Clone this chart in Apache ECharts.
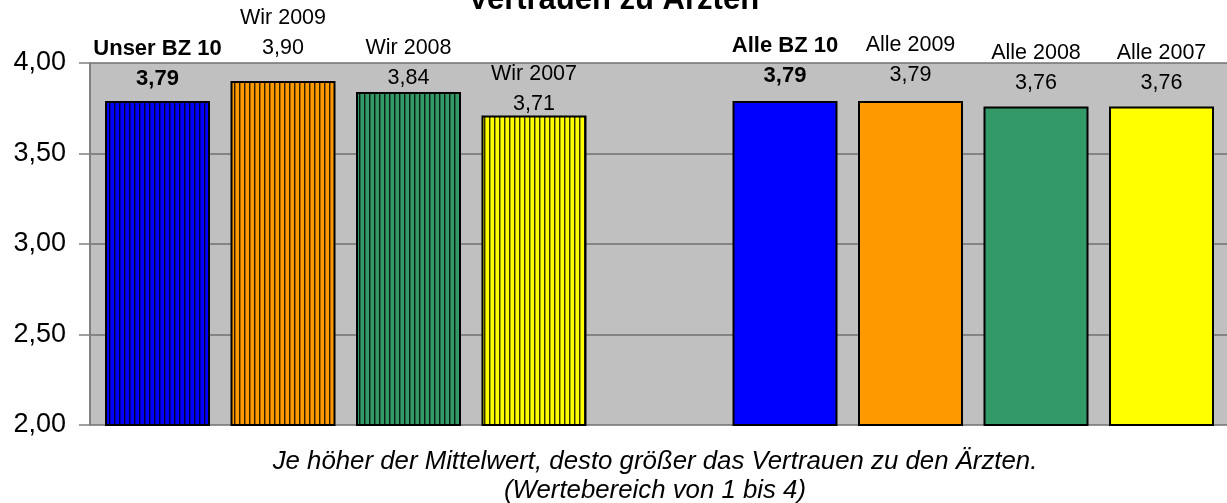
<!DOCTYPE html>
<html>
<head>
<meta charset="utf-8">
<script src="https://cdn.jsdelivr.net/npm/echarts@6/dist/echarts.min.js"></script>
<style>
html,body{margin:0;padding:0;background:#fff;}
#chart{width:1227px;height:503px;}
</style>
</head>
<body>
<div id="chart"></div>
<script>
// ---- data ----
const ownCategories = ['Unser BZ 10', 'Wir 2009', 'Wir 2008', 'Wir 2007'];
const ownValues = [3.79, 3.90, 3.84, 3.71];
const allCategories = ['Alle BZ 10', 'Alle 2009', 'Alle 2008', 'Alle 2007'];
const allValues = [3.79, 3.79, 3.76, 3.76];
const yMin = 2, yMax = 4, yStep = 0.5;
const titleText = 'Vertrauen zu Ärzten';
const noteLines = ['Je höher der Mittelwert, desto größer das Vertrauen zu den Ärzten.', '(Wertebereich von 1 bis 4)'];

// ---- styles ----
const barColors = ['#0000FF', '#FF9900', '#339966', '#FFFF00'];
const ownLabelLift = [7, 18, -1, -3.5];
const allLabelLift = [10.5, 11, 8, 8];
const FONT = '"Liberation Sans", Arial, sans-serif';

function stripes(color) {
  const c = document.createElement('canvas');
  c.width = 5; c.height = 10;
  const g = c.getContext('2d');
  g.fillStyle = color; g.fillRect(0, 0, 5, 10);
  g.fillStyle = 'rgba(0,0,0,0.8)'; g.fillRect(4, 0, 1, 10);
  g.fillStyle = 'rgba(0,0,0,0.35)'; g.fillRect(0, 0, 1, 10);
  return { image: c, repeat: 'repeat' };
}

const categories = ownCategories.concat([''], allCategories);
const data = [];
ownValues.forEach((v, i) => data.push({
  value: v,
  itemStyle: { color: stripes(barColors[i]) },
  label: { offset: [0, -ownLabelLift[i]] }
}));
data.push({ value: '-', label: { show: false } });
allValues.forEach((v, i) => data.push({
  value: v,
  itemStyle: { color: barColors[i] },
  label: { offset: [0, -allLabelLift[i]] }
}));

const fmt = v => v.toFixed(2).replace('.', ',');

const chart = echarts.init(document.getElementById('chart'), null, { renderer: 'canvas' });
chart.setOption({
  animation: false,
  backgroundColor: '#ffffff',
  textStyle: { fontFamily: FONT },
  title: {
    text: titleText, left: 'center', top: -15, padding: 0,
    textStyle: { fontFamily: FONT, fontSize: 31, fontWeight: 'bold', color: '#000', lineHeight: 31 }
  },
  graphic: [{
    type: 'text', x: 655, y: 447, z: 10,
    style: {
      text: noteLines.join('\n'), textAlign: 'center', textVerticalAlign: 'top',
      font: 'italic 25.8px ' + FONT, lineHeight: 29, fill: '#000'
    }
  }],
  grid: [
    { left: 90, right: -3, top: 63, bottom: 78, show: true, backgroundColor: '#C0C0C0', borderWidth: 0 },
    { left: 94.75, right: 2.75, top: 63, bottom: 78 }
  ],
  xAxis: [
    { gridIndex: 0, type: 'category', data: categories, show: false },
    { gridIndex: 1, type: 'category', data: categories, show: false }
  ],
  yAxis: [
    {
      gridIndex: 0, type: 'value', min: yMin, max: yMax, interval: yStep,
      axisLine: { show: true, lineStyle: { color: '#808080', width: 2 } },
      axisTick: { show: true, length: 11, lineStyle: { color: '#808080', width: 1.5 } },
      axisLabel: { fontSize: 27, color: '#000', margin: 24, padding: [6, 0, 0, 0], fontFamily: FONT, formatter: v => fmt(v) },
      splitLine: { show: true, lineStyle: { color: '#707070', width: 1.5 } }
    },
    { gridIndex: 1, type: 'value', min: yMin, max: yMax, interval: yStep, show: false, splitLine: { show: false } }
  ],
  series: [{
    type: 'bar', xAxisIndex: 1, yAxisIndex: 1,
    barWidth: 105,
    data: data,
    itemStyle: { borderColor: '#000', borderWidth: 2 },
    label: {
      show: true, position: 'top', distance: 0,
      formatter: p => {
        const name = categories[p.dataIndex];
        const bold = p.dataIndex === 0 || p.dataIndex === 5;
        return bold ? '{nb|' + name + '}\n{vb|' + fmt(p.value) + '}'
                    : '{n|' + name + '}\n{v|' + fmt(p.value) + '}';
      },
      rich: {
        n: { fontSize: 21.5, lineHeight: 30, color: '#000', fontFamily: FONT },
        v: { fontSize: 21.5, lineHeight: 30, color: '#000', fontFamily: FONT },
        nb: { fontSize: 22, lineHeight: 30, color: '#000', fontWeight: 'bold', fontFamily: FONT },
        vb: { fontSize: 22, lineHeight: 30, color: '#000', fontWeight: 'bold', fontFamily: FONT }
      }
    }
  }]
});
</script>
</body>
</html>
